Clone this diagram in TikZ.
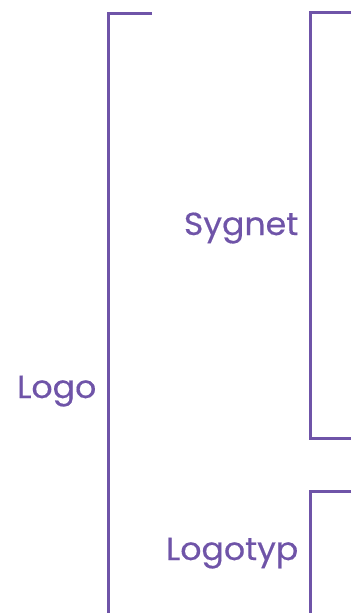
\documentclass[tikz,border=0pt]{standalone}
\usepackage{fontspec}
\setmainfont{Poppins}[FakeStretch=1.04,FakeBold=0.4]
\definecolor{brandpurple}{HTML}{6F54A8}
\tikzset{
  bracketline/.style={draw=brandpurple,line width=3bp,line join=miter},
  lbl/.style={text=brandpurple,font=\fontsize{32}{36}\selectfont,inner sep=0pt,anchor=base east}
}
\begin{document}
\begin{tikzpicture}[x=1bp,y=-1bp]
\useasboundingbox (0,0) rectangle (351,613);
\clip (0,0) rectangle (351,613);
\coordinate (a1) at (152,13.5);
\coordinate (a2) at (108,13.5);
\coordinate (a3) at (108,613);
\coordinate (b1) at (351,12.5);
\coordinate (b2) at (310,12.5);
\coordinate (b3) at (310,438);
\coordinate (b4) at (351,438);
\coordinate (c1) at (351,491);
\coordinate (c2) at (310,491);
\coordinate (c3) at (310,613);
\draw[bracketline] (a1) -- (a2) -- (a3);
\draw[bracketline] (b1) -- (b2) -- (b3) -- (b4);
\draw[bracketline] (c1) -- (c2) -- (c3);
\node[lbl] (logo) at (96.5,398) {Logo};
\node[lbl] (sygnet) at (298.5,235) {Sygnet};
\node[lbl] (logotyp) at (298.5,560) {Logotyp};
\end{tikzpicture}
\end{document}
